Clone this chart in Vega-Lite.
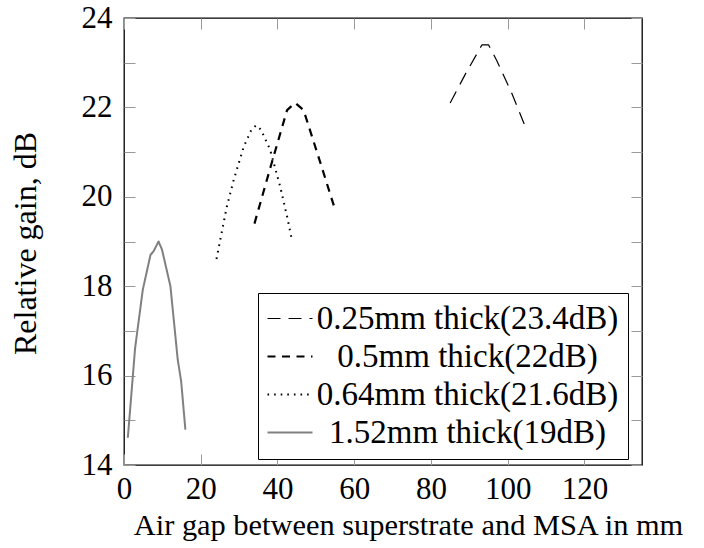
{
  "$schema": "https://vega.github.io/schema/vega-lite/v6.json",
  "width": 518,
  "height": 447,
  "autosize": "none",
  "padding": {"left": 124, "top": 18, "right": 62, "bottom": 83},
  "config": {
    "view": {"stroke": "black", "strokeWidth": 1.3},
    "font": "Liberation Serif",
    "axis": {
      "domain": false,
      "grid": false,
      "tickColor": "#999999",
      "tickSize": -11,
      "tickWidth": 1,
      "labelFlush": false,
      "labelFont": "Liberation Serif",
      "labelFontSize": 31,
      "labelColor": "black",
      "titleFont": "Liberation Serif",
      "titleFontWeight": "normal",
      "titleColor": "black"
    }
  },
  "data": {
    "values": [
      {"series": "0.25mm thick(23.4dB)", "gap": 85, "gain": 22.1},
      {"series": "0.25mm thick(23.4dB)", "gap": 89, "gain": 22.75},
      {"series": "0.25mm thick(23.4dB)", "gap": 93.3, "gain": 23.4},
      {"series": "0.25mm thick(23.4dB)", "gap": 95, "gain": 23.4},
      {"series": "0.25mm thick(23.4dB)", "gap": 97.2, "gain": 23.04},
      {"series": "0.25mm thick(23.4dB)", "gap": 101, "gain": 22.33},
      {"series": "0.25mm thick(23.4dB)", "gap": 104.3, "gain": 21.63},
      {"series": "0.5mm thick(22dB)", "gap": 34, "gain": 19.4},
      {"series": "0.5mm thick(22dB)", "gap": 38.3, "gain": 20.7},
      {"series": "0.5mm thick(22dB)", "gap": 42.5, "gain": 21.94},
      {"series": "0.5mm thick(22dB)", "gap": 44.6, "gain": 22.1},
      {"series": "0.5mm thick(22dB)", "gap": 46.8, "gain": 21.94},
      {"series": "0.5mm thick(22dB)", "gap": 51, "gain": 20.81},
      {"series": "0.5mm thick(22dB)", "gap": 55.1, "gain": 19.69},
      {"series": "0.64mm thick(21.6dB)", "gap": 24.1, "gain": 18.61},
      {"series": "0.64mm thick(21.6dB)", "gap": 26.8, "gain": 19.78},
      {"series": "0.64mm thick(21.6dB)", "gap": 28.6, "gain": 20.38},
      {"series": "0.64mm thick(21.6dB)", "gap": 31.2, "gain": 21.12},
      {"series": "0.64mm thick(21.6dB)", "gap": 33.3, "gain": 21.52},
      {"series": "0.64mm thick(21.6dB)", "gap": 34.5, "gain": 21.6},
      {"series": "0.64mm thick(21.6dB)", "gap": 35.7, "gain": 21.5},
      {"series": "0.64mm thick(21.6dB)", "gap": 38.1, "gain": 21.05},
      {"series": "0.64mm thick(21.6dB)", "gap": 40.7, "gain": 20.23},
      {"series": "0.64mm thick(21.6dB)", "gap": 42.5, "gain": 19.56},
      {"series": "0.64mm thick(21.6dB)", "gap": 43.6, "gain": 19.1},
      {"series": "1.52mm thick(19dB)", "gap": 1, "gain": 14.61},
      {"series": "1.52mm thick(19dB)", "gap": 2.9, "gain": 16.62},
      {"series": "1.52mm thick(19dB)", "gap": 4.9, "gain": 17.92},
      {"series": "1.52mm thick(19dB)", "gap": 6.9, "gain": 18.7},
      {"series": "1.52mm thick(19dB)", "gap": 7.7, "gain": 18.78},
      {"series": "1.52mm thick(19dB)", "gap": 9, "gain": 19.0},
      {"series": "1.52mm thick(19dB)", "gap": 9.9, "gain": 18.82},
      {"series": "1.52mm thick(19dB)", "gap": 12.1, "gain": 18.0},
      {"series": "1.52mm thick(19dB)", "gap": 14, "gain": 16.36},
      {"series": "1.52mm thick(19dB)", "gap": 14.9, "gain": 15.87},
      {"series": "1.52mm thick(19dB)", "gap": 16, "gain": 14.79}
    ]
  },
  "layer": [
    {
      "mark": {"type": "line", "strokeCap": "butt", "strokeJoin": "round"},
      "encoding": {
        "x": {
          "field": "gap", "type": "quantitative",
          "scale": {"domain": [0, 135], "nice": false, "zero": false},
          "axis": {
            "orient": "bottom",
            "values": [0, 20, 40, 60, 80, 100, 120],
            "labelPadding": 44.8,
            "labelBaseline": "alphabetic",
            "title": "Air gap between superstrate and MSA in mm",
            "titleFontSize": 30.4,
            "titleX": 284,
            "titleY": 69,
            "titleBaseline": "alphabetic",
            "titleAlign": "center"
          }
        },
        "y": {
          "field": "gain", "type": "quantitative",
          "scale": {"domain": [14, 24], "nice": false, "zero": false},
          "axis": {
            "orient": "left",
            "values": [14, 15, 16, 17, 18, 19, 20, 21, 22, 23, 24],
            "labelExpr": "datum.value % 2 == 0 ? datum.label : ''",
            "labelPadding": 23,
            "title": "Relative gain, dB",
            "titleFontSize": 32,
            "titleX": -89,
            "titleY": 225,
            "titleAngle": 270,
            "titleBaseline": "alphabetic",
            "titleAlign": "center"
          }
        },
        "color": {
          "field": "series", "type": "nominal",
          "scale": {
            "domain": ["0.25mm thick(23.4dB)", "0.5mm thick(22dB)", "0.64mm thick(21.6dB)", "1.52mm thick(19dB)"],
            "range": ["black", "black", "black", "#808080"]
          },
          "legend": {
            "title": null,
            "orient": "none",
            "legendX": 134,
            "legendY": 275,
            "symbolType": "M-2,0H2",
            "symbolSize": 506,
            "symbolOffset": 6.5,
            "labelFont": "Liberation Serif",
            "labelFontSize": 33,
            "labelColor": "black",
            "labelLimit": 500,
            "labelAlign": "center",
            "labelOffset": 161,
            "rowPadding": 4,
            "padding": 9,
            "strokeColor": "black",
            "fillColor": "white",
            "cornerRadius": 0
          }
        },
        "strokeDash": {
          "field": "series", "type": "nominal",
          "scale": {
            "domain": ["0.25mm thick(23.4dB)", "0.5mm thick(22dB)", "0.64mm thick(21.6dB)", "1.52mm thick(19dB)"],
            "range": [[13, 8], [8, 6.5], [1.6, 5], [1, 0]]
          }
        },
        "strokeWidth": {
          "field": "series", "type": "nominal",
          "scale": {
            "type": "ordinal",
            "domain": ["0.25mm thick(23.4dB)", "0.5mm thick(22dB)", "0.64mm thick(21.6dB)", "1.52mm thick(19dB)"],
            "range": [1.2, 2.2, 2, 2]
          }
        }
      }
    },
    {
      "mark": {"type": "line", "opacity": 0},
      "encoding": {
        "x": {
          "field": "gap", "type": "quantitative",
          "axis": {"orient": "top", "values": [0, 20, 40, 60, 80, 100, 120], "labels": false, "title": null}
        },
        "y": {
          "field": "gain", "type": "quantitative",
          "axis": {"orient": "right", "values": [14, 15, 16, 17, 18, 19, 20, 21, 22, 23, 24], "labels": false, "title": null}
        },
        "detail": {"field": "series", "type": "nominal"}
      }
    }
  ],
  "resolve": {"axis": {"x": "independent", "y": "independent"}}
}
